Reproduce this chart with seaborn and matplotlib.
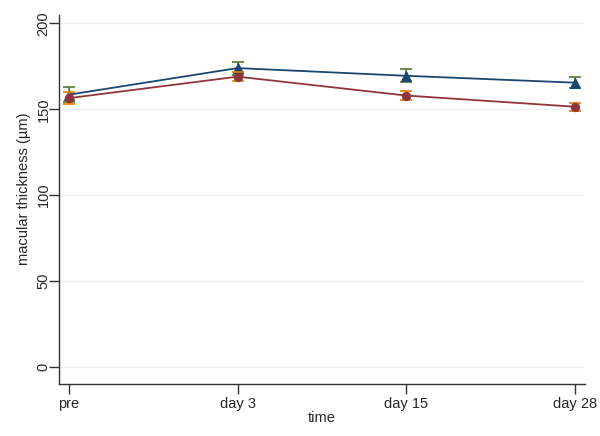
import numpy as np
import pandas as pd
import matplotlib
matplotlib.use("Agg")
import matplotlib.pyplot as plt
import seaborn as sns

# values
times = ["pre", "day 3", "day 15", "day 28"]
group_a = [158.5, 174.0, 169.5, 165.5]   # navy triangles
group_a_se = [4.5, 3.8, 3.8, 3.3]
group_b = [156.5, 169.0, 158.0, 151.5]   # maroon circles
group_b_se = [3.5, 2.8, 2.8, 2.3]

sns.set_style("white")
plt.rcParams['font.family'] = ['Liberation Sans', 'DejaVu Sans']

pos = np.arange(len(times))
df = pd.DataFrame({
    "pos": np.concatenate([pos, pos]),
    "thickness": group_a + group_b,
    "group": ["a"] * len(times) + ["b"] * len(times),
})

navy = "#1a476f"
maroon = "#90353b"
green = "#55752f"
orange = "#e37e00"

fig = plt.figure(figsize=(6.0, 4.36), dpi=100)
ax = fig.add_axes([0.098, 0.119, 0.877, 0.847])

for y in [0, 50, 100, 150, 200]:
    ax.axhline(y, color="#eaf2f3", lw=1.0, zorder=0)

ax.errorbar(pos, group_a, yerr=group_a_se, fmt="none", ecolor=green,
            elinewidth=1.2, capsize=4, capthick=1.2, zorder=2)
sns.lineplot(data=df[df.group == "a"], x="pos", y="thickness", color=navy,
             marker="^", markersize=7, markeredgecolor=navy, lw=1.3,
             ax=ax, zorder=3)
ax.errorbar(pos, group_b, yerr=group_b_se, fmt="none", ecolor=orange,
            elinewidth=1.2, capsize=4, capthick=1.2, zorder=4)
sns.lineplot(data=df[df.group == "b"], x="pos", y="thickness", color=maroon,
             marker="o", markersize=6, markeredgecolor=maroon, lw=1.3,
             ax=ax, zorder=5)

ax.set_xlim(-0.06, 3.06)
ax.set_ylim(-10, 205)
ax.set_xticks(pos)
ax.set_xticklabels(times)
ax.set_yticks([0, 50, 100, 150, 200])
ax.set_yticklabels(["0", "50", "100", "150", "200"], rotation=90, va="center")
ax.tick_params(axis="x", direction="out", length=7, width=1, pad=2,
               color="#333333", labelsize=10.5, bottom=True)
ax.tick_params(axis="y", direction="out", length=7, width=1, pad=-1,
               color="#333333", labelsize=10.5, left=True)
ax.set_xlabel("time", fontsize=10.5, labelpad=0)
ax.set_ylabel("macular thickness (\u00b5m)", fontsize=10.5)
ax.yaxis.set_label_coords(-0.052, 0.53)

for side in ["top", "right"]:
    ax.spines[side].set_visible(False)
for side in ["left", "bottom"]:
    ax.spines[side].set_color("#333333")
    ax.spines[side].set_linewidth(1.0)

fig.savefig("out.png", dpi=100)
